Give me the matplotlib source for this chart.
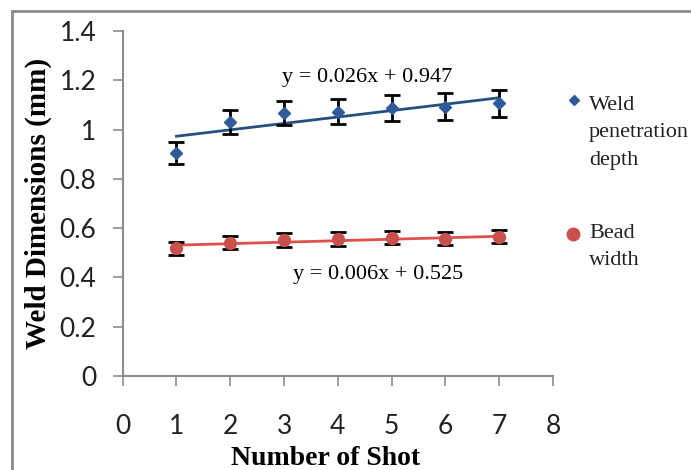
import numpy as np
import matplotlib
matplotlib.use('Agg')
import matplotlib.pyplot as plt
from matplotlib.patches import Rectangle

# data
shots = [1, 2, 3, 4, 5, 6, 7]
penetration = [0.906, 1.032, 1.066, 1.073, 1.086, 1.093, 1.107]
penetration_err = [0.045, 0.049, 0.048, 0.052, 0.053, 0.054, 0.055]
bead = [0.518, 0.541, 0.552, 0.556, 0.561, 0.557, 0.565]
bead_err = [0.025, 0.026, 0.027, 0.027, 0.027, 0.027, 0.027]
pen_fit = (0.026, 0.947)
bead_fit = (0.006, 0.525)
x_ticks = [0, 1, 2, 3, 4, 5, 6, 7, 8]
y_ticks = [0, 0.2, 0.4, 0.6, 0.8, 1, 1.2, 1.4]
y_ticklabels = ['0', '0.2', '0.4', '0.6', '0.8', '1', '1.2', '1.4']

BLUE = '#2f5b9a'
BLUE_LINE = '#23517f'
RED = '#c9504b'
RED_LINE = '#e0504a'
GRAY = '#8c8c8c'
serif = 'Liberation Serif'
sans = 'Lato'

fig = plt.figure(figsize=(6.91, 4.70), dpi=100)
fig.patches.append(Rectangle((12 / 691, -0.1), 1.2, 1.1 - 11 / 470,
                             transform=fig.transFigure, fill=False,
                             edgecolor='#8a8a8a', linewidth=2))
ax = fig.add_axes([122.7 / 691, 94 / 470, (553 - 122.7) / 691, (376 - 31) / 470])

xs = np.array(shots)
ax.plot(xs, pen_fit[0] * xs + pen_fit[1], color=BLUE_LINE, lw=2, zorder=2)
ax.plot(xs, bead_fit[0] * xs + bead_fit[1], color=RED_LINE, lw=2, zorder=2)
ax.errorbar(shots, penetration, yerr=penetration_err, fmt='D', color=BLUE,
            ms=6, ecolor='black', elinewidth=2, capsize=5.5, capthick=2, zorder=3)
ax.errorbar(shots, bead, yerr=bead_err, fmt='o', color=RED,
            ms=8.5, ecolor='black', elinewidth=2, capsize=5.5, capthick=2, zorder=3)

ax.set_xlim(0, 8)
ax.set_ylim(0, 1.4)
ax.set_xticks(x_ticks)
ax.set_yticks(y_ticks)
ax.set_yticklabels(y_ticklabels)
for s in ['top', 'right']:
    ax.spines[s].set_visible(False)
for s in ['left', 'bottom']:
    ax.spines[s].set_color(GRAY)
    ax.spines[s].set_linewidth(1.5)
ax.tick_params(direction='out', length=7, width=1.2, color=GRAY,
               labelsize=19, labelcolor='#222222')
ax.tick_params(axis='x', pad=20)
ax.tick_params(axis='y', pad=12)
for lab in ax.get_xticklabels() + ax.get_yticklabels():
    lab.set_fontfamily(sans)

ax.set_xlabel('Number of Shot', fontfamily=serif, fontweight='bold',
              fontsize=20)
ax.xaxis.set_label_coords(0.472, -0.238, transform=ax.transAxes)
ax.xaxis.label.set_va('center')
ax.set_ylabel('Weld Dimensions (mm)', fontfamily=serif, fontweight='bold',
              fontsize=21, labelpad=5)

ax.text(4.54, 1.213, 'y = 0.026x + 0.947', fontfamily=serif, fontsize=16,
        ha='center', va='center')
ax.text(4.74, 0.41, 'y = 0.006x + 0.525', fontfamily=serif, fontsize=16,
        ha='center', va='center')

# legend drawn by hand to follow the stacked labels
fig.lines.append(plt.Line2D([574 / 691], [1 - 100 / 470], marker='D', ms=5,
                            color=BLUE, transform=fig.transFigure))
fig.lines.append(plt.Line2D([573 / 691], [1 - 234 / 470], marker='o', ms=9,
                            color=RED, transform=fig.transFigure))
fig.text(589 / 691, 1 - 96 / 470, 'Weld\npenetration\ndepth', fontfamily=serif,
         fontsize=16, va='top', ha='left', linespacing=1.6,
         color='#222222')
fig.text(589 / 691, 1 - 224 / 470, 'Bead\nwidth', fontfamily=serif,
         fontsize=16, va='top', ha='left', linespacing=1.6,
         color='#222222')

fig.savefig('out.png', dpi=100)
